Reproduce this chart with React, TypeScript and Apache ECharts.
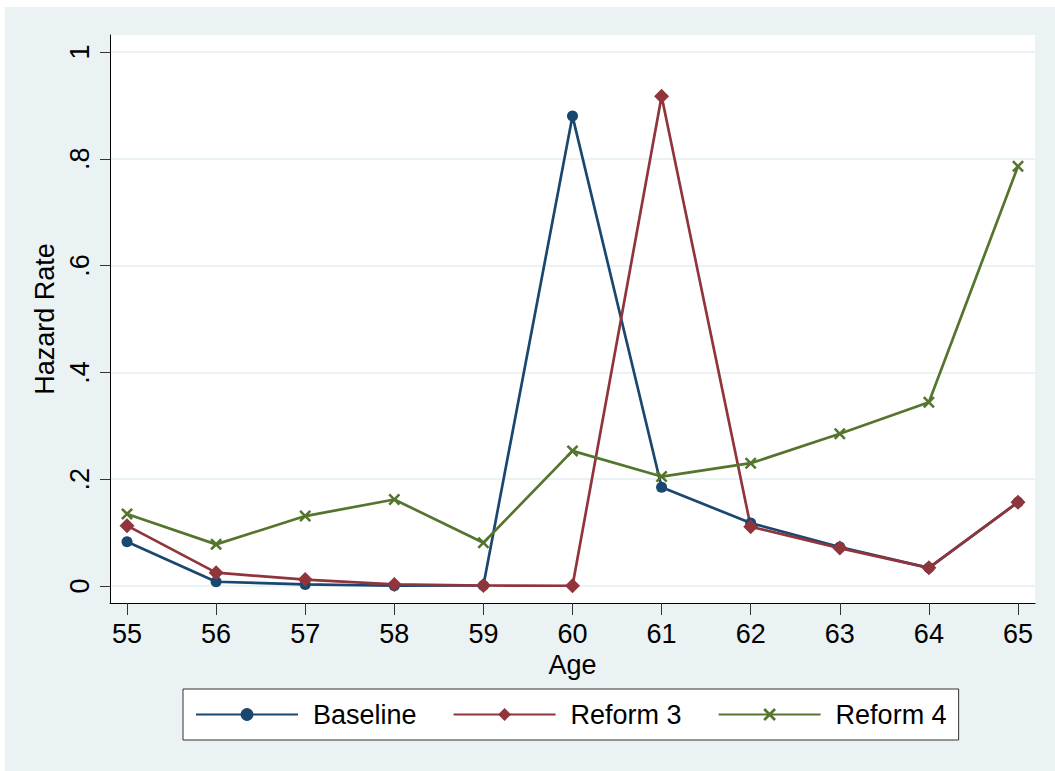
import React, { useEffect, useRef } from "react";
import * as echarts from "echarts";

const ages = [55, 56, 57, 58, 59, 60, 61, 62, 63, 64, 65];
const baseline = [0.083, 0.008, 0.003, 0.0005, 0.001, 0.88, 0.185, 0.118, 0.073, 0.034, 0.157];
const reform3 = [0.113, 0.025, 0.012, 0.003, 0.001, 0.0005, 0.917, 0.111, 0.071, 0.034, 0.157];
const reform4 = [0.135, 0.078, 0.131, 0.162, 0.081, 0.253, 0.205, 0.23, 0.285, 0.344, 0.786];
const yTicks = [0, 0.2, 0.4, 0.6, 0.8, 1];
const seriesNames = ["Baseline", "Reform 3", "Reform 4"];

const FONT = "'Liberation Sans', Arial, Helvetica, sans-serif";
const FS = 27;
const XSYM =
  "path://M0,1.5 L1.5,0 L5,3.5 L8.5,0 L10,1.5 L6.5,5 L10,8.5 L8.5,10 L5,6.5 L1.5,10 L0,8.5 L3.5,5 Z";

export default function App() {
  const ref = useRef<HTMLDivElement>(null);
  useEffect(() => {
    if (!ref.current) return;
    const chart = echarts.init(ref.current, null, { renderer: "svg" });
    const pair = (arr: number[]) => ages.map((a, i) => [a, arr[i]]);
    chart.setOption({
      animation: false,
      backgroundColor: "#ffffff",
      textStyle: { fontFamily: FONT },
      graphic: [
        {
          type: "rect",
          z: -100,
          silent: true,
          shape: { x: 5, y: 7, width: 1050, height: 764 },
          style: { fill: "#EAF2F3" },
        },
      ],
      grid: {
        left: 110,
        top: 35,
        right: 20,
        bottom: 168,
        show: true,
        backgroundColor: "#ffffff",
        borderWidth: 0,
      },
      xAxis: {
        type: "value",
        min: 54.809,
        max: 65.191,
        name: "Age",
        nameLocation: "middle",
        nameGap: 40,
        nameTextStyle: { fontSize: FS, color: "#000", fontFamily: FONT },
        axisLine: { show: true, onZero: false, lineStyle: { color: "#000", width: 1 } },
        axisTick: { show: true, length: 12, customValues: ages, lineStyle: { color: "#333", width: 1 } },
        axisLabel: {
          customValues: ages,
          fontSize: FS,
          color: "#000",
          margin: 17,
          fontFamily: FONT,
        },
        splitLine: { show: false },
      },
      yAxis: {
        type: "value",
        min: -0.0318,
        max: 1.0318,
        name: "Hazard Rate",
        nameLocation: "middle",
        nameGap: 51,
        nameTextStyle: { fontSize: FS, color: "#000", fontFamily: FONT },
        axisLine: { show: true, onZero: false, lineStyle: { color: "#000", width: 1 } },
        axisTick: { show: true, length: 10, customValues: yTicks, lineStyle: { color: "#333", width: 1 } },
        axisLabel: {
          customValues: yTicks,
          rotate: 90,
          fontSize: FS,
          color: "#000",
          margin: 17,
          fontFamily: FONT,
          formatter: (v: number) => {
            if (Math.abs(v) < 1e-9) return "0";
            if (Math.abs(v - 1) < 1e-9) return "1";
            return v.toFixed(1).replace(/^0/, "");
          },
        },
        splitLine: { show: true, lineStyle: { color: "#EAF2F3", width: 2 } },
      },
      legend: {
        left: 183,
        top: 689,
        orient: "horizontal",
        data: seriesNames,
        backgroundColor: "#ffffff",
        borderColor: "#333",
        borderWidth: 1,
        borderRadius: 0,
        padding: [12, 12, 12, 12],
        itemWidth: 102,
        itemHeight: 16,
        itemGap: 36,
        textStyle: { fontSize: FS, color: "#000", fontFamily: FONT, padding: [0, 0, 0, 10] },
      },
      series: [
        {
          name: seriesNames[0],
          type: "line",
          data: pair(baseline),
          symbol: "circle",
          symbolSize: 11,
          color: "#1A476F",
          lineStyle: { width: 2.7, color: "#1A476F" },
          itemStyle: { color: "#1A476F" },
        },
        {
          name: seriesNames[1],
          type: "line",
          data: pair(reform3),
          symbol: "diamond",
          symbolSize: 15,
          color: "#90353B",
          lineStyle: { width: 2.7, color: "#90353B" },
          itemStyle: { color: "#90353B" },
        },
        {
          name: seriesNames[2],
          type: "line",
          data: pair(reform4),
          symbol: XSYM,
          symbolSize: 12,
          color: "#55752F",
          lineStyle: { width: 2.7, color: "#55752F" },
          itemStyle: { color: "#55752F" },
        },
      ],
    });
    return () => chart.dispose();
  }, []);
  return (
    <div
      ref={ref}
      style={{ position: "absolute", left: 0, top: 0, width: 1055, height: 771 }}
    />
  );
}
